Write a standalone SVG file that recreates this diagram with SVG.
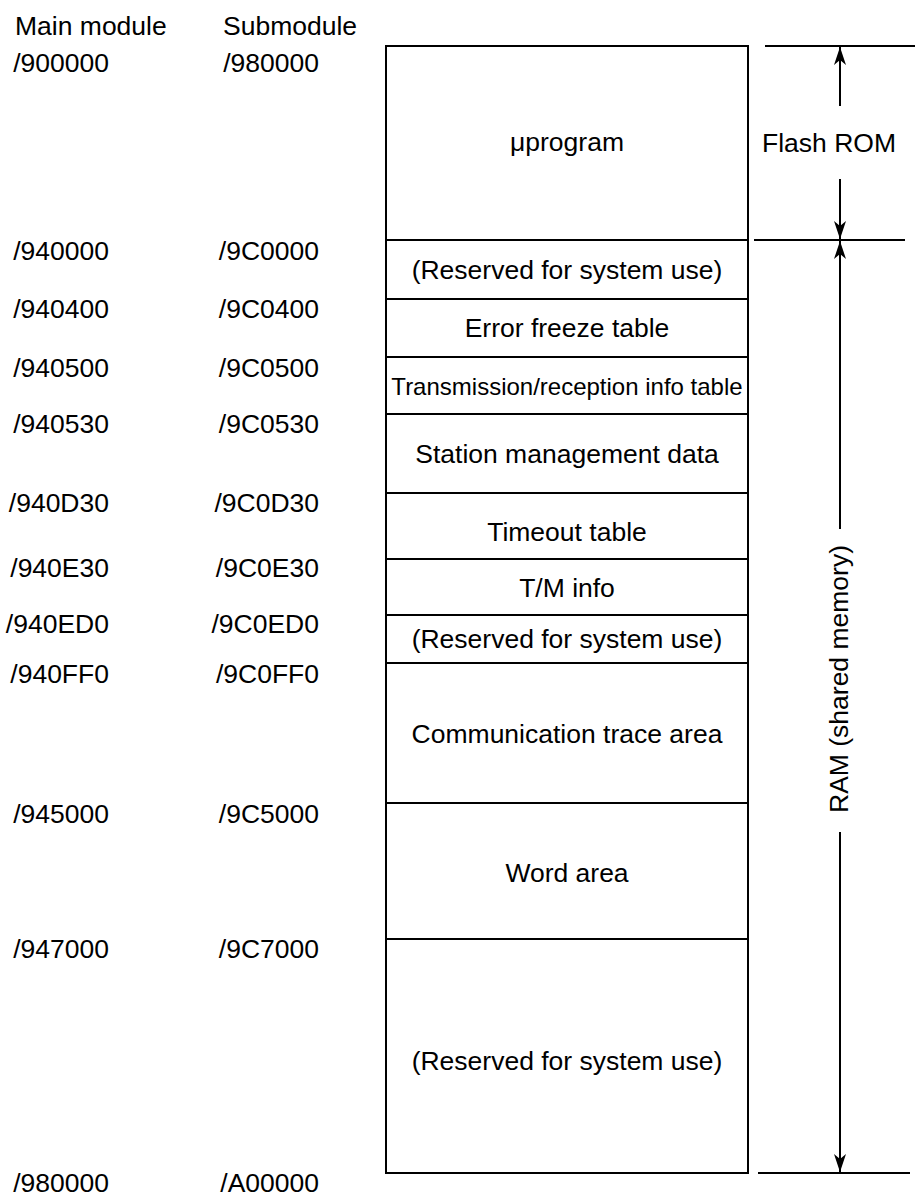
<svg xmlns="http://www.w3.org/2000/svg" width="918" height="1196" viewBox="0 0 918 1196">
<style>
text{font-family:"Liberation Sans",Arial,sans-serif;font-size:26.5px;fill:#000}
.addr{text-anchor:end}
.c{text-anchor:middle}
.ln{stroke:#000;stroke-width:2;fill:none}
.box{stroke:#000;stroke-width:2;fill:#fff}
</style>
<defs>
<marker id="ah" markerUnits="userSpaceOnUse" markerWidth="18" markerHeight="12" viewBox="0 0 18 12" refX="18" refY="6" orient="auto">
<path d="M0,0 L18,6 L0,12 L5,6 z" fill="#000"/>
</marker>
</defs>
<g id="headers">
<text x="15" y="35">Main module</text>
<text x="223" y="35">Submodule</text>
</g>
<g id="addresses">
<text class="addr" x="109" y="72">/900000</text><text class="addr" x="319" y="72">/980000</text>
<text class="addr" x="109" y="260">/940000</text><text class="addr" x="319" y="260">/9C0000</text>
<text class="addr" x="109" y="318">/940400</text><text class="addr" x="319" y="318">/9C0400</text>
<text class="addr" x="109" y="377">/940500</text><text class="addr" x="319" y="377">/9C0500</text>
<text class="addr" x="109" y="433">/940530</text><text class="addr" x="319" y="433">/9C0530</text>
<text class="addr" x="109" y="512">/940D30</text><text class="addr" x="319" y="512">/9C0D30</text>
<text class="addr" x="109" y="577">/940E30</text><text class="addr" x="319" y="577">/9C0E30</text>
<text class="addr" x="109" y="633">/940ED0</text><text class="addr" x="319" y="633">/9C0ED0</text>
<text class="addr" x="109" y="683">/940FF0</text><text class="addr" x="319" y="683">/9C0FF0</text>
<text class="addr" x="109" y="823">/945000</text><text class="addr" x="319" y="823">/9C5000</text>
<text class="addr" x="109" y="958">/947000</text><text class="addr" x="319" y="958">/9C7000</text>
<text class="addr" x="109" y="1192">/980000</text><text class="addr" x="319" y="1192">/A00000</text>
</g>
<g id="n-uprogram"><rect class="box" x="386" y="46" width="362" height="194"/><text class="c" x="567" y="151">μprogram</text></g>
<g id="n-reserved1"><rect class="box" x="386" y="240" width="362" height="59"/><text class="c" x="567" y="279">(Reserved for system use)</text></g>
<g id="n-errfreeze"><rect class="box" x="386" y="299" width="362" height="58"/><text class="c" x="567" y="337">Error freeze table</text></g>
<g id="n-txrx"><rect class="box" x="386" y="357" width="362" height="57"/><text class="c" x="567" y="395" style="font-size:24px">Transmission/reception info table</text></g>
<g id="n-station"><rect class="box" x="386" y="414" width="362" height="79"/><text class="c" x="567" y="463">Station management data</text></g>
<g id="n-timeout"><rect class="box" x="386" y="493" width="362" height="66"/><text class="c" x="567" y="541">Timeout table</text></g>
<g id="n-tm"><rect class="box" x="386" y="559" width="362" height="56"/><text class="c" x="567" y="597">T/M info</text></g>
<g id="n-reserved2"><rect class="box" x="386" y="615" width="362" height="48"/><text class="c" x="567" y="648">(Reserved for system use)</text></g>
<g id="n-trace"><rect class="box" x="386" y="663" width="362" height="140"/><text class="c" x="567" y="743">Communication trace area</text></g>
<g id="n-word"><rect class="box" x="386" y="803" width="362" height="136"/><text class="c" x="567" y="882">Word area</text></g>
<g id="n-reserved3"><rect class="box" x="386" y="939" width="362" height="234"/><text class="c" x="567" y="1070">(Reserved for system use)</text></g>
<g id="connectors">
<line class="ln" x1="765" y1="46" x2="915" y2="46"/>
<line class="ln" x1="754" y1="240" x2="905" y2="240"/>
<line class="ln" x1="758" y1="1173" x2="910" y2="1173"/>
<line class="ln" x1="840" y1="106" x2="840" y2="47" marker-end="url(#ah)"/>
<line class="ln" x1="840" y1="179" x2="840" y2="239" marker-end="url(#ah)"/>
<line class="ln" x1="840" y1="529" x2="840" y2="241" marker-end="url(#ah)"/>
<line class="ln" x1="840" y1="832" x2="840" y2="1172" marker-end="url(#ah)"/>
</g>
<g id="labels">
<text class="c" x="829" y="152">Flash ROM</text>
<text class="c" transform="translate(848,679) rotate(-90)">RAM (shared memory)</text>
</g>
</svg>
